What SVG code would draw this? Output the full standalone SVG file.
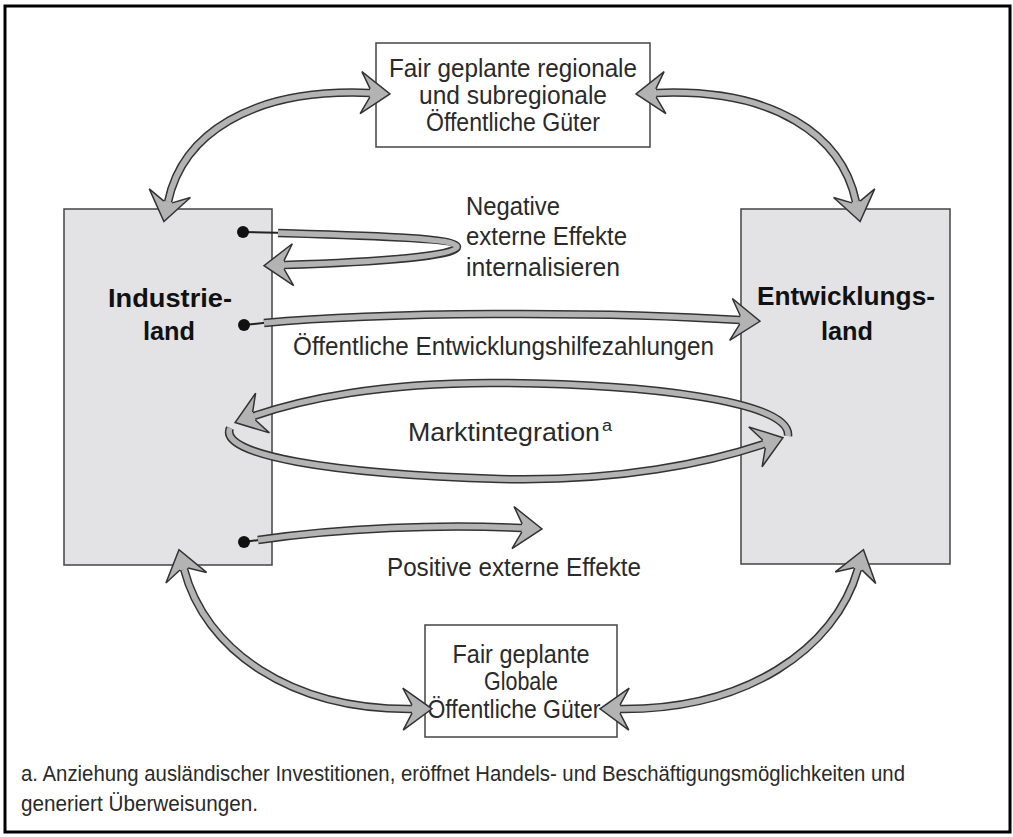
<svg xmlns="http://www.w3.org/2000/svg" width="1013" height="837" viewBox="0 0 1013 837">
<style>
.frame{fill:#fff;stroke:#000;stroke-width:3}
.box{fill:#fff;stroke:#444;stroke-width:1.5}
.land{fill:#e3e3e5;stroke:#444;stroke-width:1.5}
.t{font-family:"Liberation Sans",Arial,sans-serif;font-size:25px;fill:#2a2a2a}
.b{font-family:"Liberation Sans",Arial,sans-serif;font-size:26px;font-weight:bold;fill:#111}
.f{font-family:"Liberation Sans",Arial,sans-serif;font-size:22px;fill:#2a2a2a}
.sd{fill:none;stroke:#333;stroke-width:8.5}
.sg{fill:none;stroke:#b3b3b3;stroke-width:5.5}
.se{marker-end:url(#ah)}
.ss{marker-start:url(#ah)}
.thin{fill:none;stroke:#222;stroke-width:2}
.dot{fill:#111}
</style>
<defs>
<marker id="ah" markerUnits="userSpaceOnUse" orient="auto-start-reverse" refX="0" refY="0" markerWidth="40" markerHeight="50" overflow="visible">
<path d="M0,-4.2 L-9,-21 L20,0 L-9,21 L0,4.2 Z" fill="#b3b3b3" stroke="none"/>
<path d="M0,-4.2 L-9,-21 L20,0 L-9,21 L0,4.2" fill="none" stroke="#333" stroke-width="1.5"/>
</marker>
</defs>
<rect class="frame" x="5" y="6" width="1005" height="826"/>

<g id="node-top">
<rect class="box" x="376" y="43" width="274" height="104"/>
<text class="t" text-anchor="middle" x="513" y="77" textLength="248" lengthAdjust="spacingAndGlyphs">Fair geplante regionale</text>
<text class="t" text-anchor="middle" x="513" y="104" textLength="188" lengthAdjust="spacingAndGlyphs">und subregionale</text>
<text class="t" text-anchor="middle" x="513" y="131" textLength="174" lengthAdjust="spacingAndGlyphs">Öffentliche Güter</text>
</g>

<g id="node-industrieland">
<rect class="land" x="64" y="209" width="208" height="356"/>
<text class="b" text-anchor="middle" x="170" y="307" textLength="124" lengthAdjust="spacingAndGlyphs">Industrie-</text>
<text class="b" text-anchor="middle" x="169" y="340" textLength="52" lengthAdjust="spacingAndGlyphs">land</text>
</g>

<g id="node-entwicklungsland">
<rect class="land" x="741" y="209" width="209" height="355"/>
<text class="b" text-anchor="middle" x="846" y="305" textLength="178" lengthAdjust="spacingAndGlyphs">Entwicklungs-</text>
<text class="b" text-anchor="middle" x="847" y="340" textLength="52" lengthAdjust="spacingAndGlyphs">land</text>
</g>

<g id="node-bottom">
<rect class="box" x="425" y="625" width="192" height="112"/>
<text class="t" text-anchor="middle" x="521" y="663" textLength="137" lengthAdjust="spacingAndGlyphs">Fair geplante</text>
<text class="t" text-anchor="middle" x="521" y="690" textLength="74" lengthAdjust="spacingAndGlyphs">Globale</text>
<text class="t" text-anchor="middle" x="514" y="718" textLength="173" lengthAdjust="spacingAndGlyphs">Öffentliche Güter</text>
</g>

<g id="connectors">
<path class="sd" d="M168,202 C182,135 250,88 370,93"/>
<path class="sg ss se" d="M168,202 C182,135 250,88 370,93"/>
<path class="sd" d="M856,202 C842,135 774,88 656,93"/>
<path class="sg ss se" d="M856,202 C842,135 774,88 656,93"/>
<path class="sd" d="M184,569 C205,650 290,710 412,709"/>
<path class="sg ss se" d="M184,569 C205,650 290,710 412,709"/>
<path class="sd" d="M858,569 C835,650 745,710 620,709"/>
<path class="sg ss se" d="M858,569 C835,650 745,710 620,709"/>
<path class="thin" d="M243,232 L288,233"/>
<path class="sd" d="M278,233 C380,236 457,238 457,247 C457,256 380,262 284,265"/>
<path class="sg se" d="M278,233 C380,236 457,238 457,247 C457,256 380,262 284,265"/>
<circle class="dot" cx="243" cy="232" r="6"/>
<path class="thin" d="M244,325 L272,322"/>
<path class="sd" d="M264,323 C380,312 600,311 740,320"/>
<path class="sg se" d="M264,323 C380,312 600,311 740,320"/>
<circle class="dot" cx="244" cy="325" r="6"/>
<path class="sd" d="M788,436 C792,400 640,384 500,383 C380,382 300,400 254,416"/>
<path class="sg se" d="M788,436 C792,400 640,384 500,383 C380,382 300,400 254,416"/>
<path class="sd" d="M230,428 C218,455 330,474 500,479 C620,482 710,462 764,444"/>
<path class="sg se" d="M230,428 C218,455 330,474 500,479 C620,482 710,462 764,444"/>
<path class="thin" d="M244,542 L266,539"/>
<path class="sd" d="M258,540 C340,528 440,524 522,528"/>
<path class="sg se" d="M258,540 C340,528 440,524 522,528"/>
<circle class="dot" cx="244" cy="542" r="6"/>
</g>

<g id="labels">
<text class="t" x="466" y="215" textLength="94" lengthAdjust="spacingAndGlyphs">Negative</text>
<text class="t" x="466" y="245" textLength="161" lengthAdjust="spacingAndGlyphs">externe Effekte</text>
<text class="t" x="466" y="276" textLength="154" lengthAdjust="spacingAndGlyphs">internalisieren</text>
<text class="t" x="293" y="355" textLength="421" lengthAdjust="spacingAndGlyphs">Öffentliche Entwicklungshilfezahlungen</text>
<text class="t" x="408" y="441" textLength="192" lengthAdjust="spacingAndGlyphs">Marktintegration</text>
<text class="t" x="602" y="431" style="font-size:16px" textLength="10" lengthAdjust="spacingAndGlyphs">a</text>
<text class="t" x="387" y="576" textLength="254" lengthAdjust="spacingAndGlyphs">Positive externe Effekte</text>
</g>

<g id="footnote">
<text class="f" x="21" y="781" textLength="884" lengthAdjust="spacingAndGlyphs">a. Anziehung ausländischer Investitionen, eröffnet Handels- und Beschäftigungsmöglichkeiten und</text>
<text class="f" x="21" y="811" textLength="237" lengthAdjust="spacingAndGlyphs">generiert Überweisungen.</text>
</g>
</svg>
